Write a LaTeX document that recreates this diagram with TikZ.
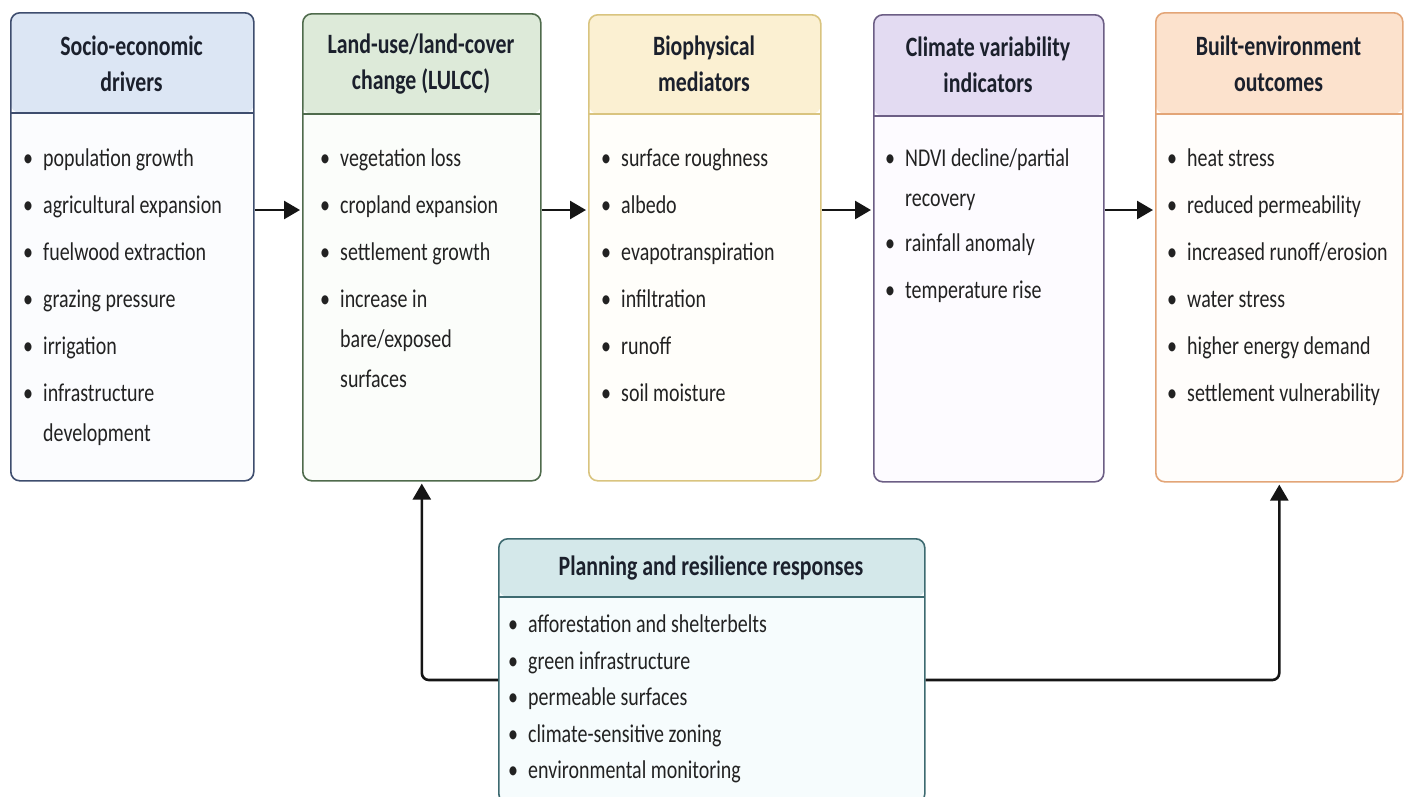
\documentclass[tikz,border=0pt]{standalone}
\usepackage{fontspec}
\setmainfont{Carlito}[FakeStretch=0.78]
\usetikzlibrary{arrows.meta,calc}
\definecolor{cAd}{HTML}{3E4D6E}\definecolor{cAh}{HTML}{DCE6F4}\definecolor{cAb}{HTML}{FBFCFE}
\definecolor{cBd}{HTML}{4F6B4C}\definecolor{cBh}{HTML}{DDEAD9}\definecolor{cBb}{HTML}{FBFDFA}
\definecolor{cCd}{HTML}{D9C47F}\definecolor{cCh}{HTML}{FBF0D2}\definecolor{cCb}{HTML}{FFFEFA}
\definecolor{cDd}{HTML}{6C5E85}\definecolor{cDh}{HTML}{E3DBF2}\definecolor{cDb}{HTML}{FDFBFF}
\definecolor{cEd}{HTML}{E3A577}\definecolor{cEh}{HTML}{FCE2CD}\definecolor{cEb}{HTML}{FFFDFB}
\definecolor{cPd}{HTML}{3D6A70}\definecolor{cPh}{HTML}{D4E8EA}\definecolor{cPb}{HTML}{F6FCFD}
\definecolor{txt}{HTML}{222222}\definecolor{ttxt}{HTML}{1B202C}\definecolor{arc}{HTML}{151515}
\newcommand\bulx{\strut\makebox[20pt][l]{\textbullet}}
\newcommand\cntx{\strut\makebox[20pt]{}}
\begin{document}
\begin{tikzpicture}[x=1pt,y=-1pt,
  card/.style n args={4}{rectangle, draw=#1, fill=#3, line width=1.6pt, rounded corners=9pt,
    inner sep=0pt, anchor=north west,
    path picture={\fill[#2] (path picture bounding box.north west) rectangle ([yshift=-#4]path picture bounding box.north east);
      \draw[#1, line width=1.4pt] ([yshift=-#4]path picture bounding box.north west) -- ([yshift=-#4]path picture bounding box.north east);}},
  ttl/.style={align=center, text=ttxt, font={\fontsize{28}{36}\selectfont\bfseries}, inner sep=0pt},
  lst/.style={align=left, text=txt, anchor=north west, inner sep=0pt, font={\fontsize{25.6}{40}\selectfont}},
  lstp/.style={align=left, text=txt, anchor=north west, inner sep=0pt, font={\fontsize{25.6}{36.5}\selectfont}},
  arr/.style={draw=arc, line width=2.6pt, shorten >=2pt, -{Triangle[length=16pt,width=18pt]}}]
\useasboundingbox[fill=white] (0,0) rectangle (1410,796);
% boxes
\node[card={cAd}{cAh}{cAb}{100pt}, minimum width=243pt, minimum height=468pt] (b1) at (10,12) {};
\node[card={cBd}{cBh}{cBb}{100pt}, minimum width=238pt, minimum height=467pt] (b2) at (302,13) {};
\node[card={cCd}{cCh}{cCb}{99pt}, minimum width=232pt, minimum height=466pt] (b3) at (588,14) {};
\node[card={cDd}{cDh}{cDb}{101pt}, minimum width=230pt, minimum height=467pt] (b4) at (873,14) {};
\node[card={cEd}{cEh}{cEb}{101pt}, minimum width=247pt, minimum height=469pt] (b5) at (1155,12) {};
\node[card={cPd}{cPh}{cPb}{58pt}, minimum width=426pt, minimum height=264pt] (bp) at (498,538) {};
% titles
\node[ttl] (t1) at (131.5,64) {Socio-economic\\drivers};
\node[ttl] (t2) at (421,64) {Land-use/land-cover\\change (LULCC)};
\node[ttl] (t3) at (704,64) {Biophysical\\mediators};
\node[ttl] (t4) at (988,65) {Climate variability\\indicators};
\node[ttl] (t5) at (1278.5,64) {Built-environment\\outcomes};
\node[ttl] (tp) at (711,568) {Planning and resilience responses};
% lists
\node[lst] (l1) at (23,138) {\bulx population growth\\[7pt]\bulx agricultural expansion\\[7pt]\bulx fuelwood extraction\\[7pt]\bulx grazing pressure\\[7pt]\bulx irrigation\\[7pt]\bulx infrastructure\\\cntx development};
\node[lst] (l2) at (320,138) {\bulx vegetation loss\\[7pt]\bulx cropland expansion\\[7pt]\bulx settlement growth\\[7pt]\bulx increase in\\\cntx bare/exposed\\\cntx surfaces};
\node[lst] (l3) at (601,138) {\bulx surface roughness\\[7pt]\bulx albedo\\[7pt]\bulx evapotranspiration\\[7pt]\bulx infiltration\\[7pt]\bulx runoff\\[7pt]\bulx soil moisture};
\node[lst] (l4) at (885,138) {\bulx NDVI decline/partial\\\cntx recovery\\[5pt]\bulx rainfall anomaly\\[7pt]\bulx temperature rise};
\node[lst] (l5) at (1167,138) {\bulx heat stress\\[7pt]\bulx reduced permeability\\[7pt]\bulx increased runoff/erosion\\[7pt]\bulx water stress\\[7pt]\bulx higher energy demand\\[7pt]\bulx settlement vulnerability};
\node[lstp] (lp) at (508,607) {\bulx afforestation and shelterbelts\\\bulx green infrastructure\\\bulx permeable surfaces\\\bulx climate-sensitive zoning\\\bulx environmental monitoring};
% connectors
\coordinate (ay) at (0,210);
\coordinate (fy) at (0,680);
\draw[arr] (b1.east |- ay) -- (b2.west |- ay);
\draw[arr] (b2.east |- ay) -- (b3.west |- ay);
\draw[arr] (b3.east |- ay) -- (b4.west |- ay);
\draw[arr] (b4.east |- ay) -- (b5.west |- ay);
\draw[arr, rounded corners=7pt] (bp.west |- fy) -| (b2.south);
\draw[arr, rounded corners=7pt] (bp.east |- fy) -| (b5.south);
\end{tikzpicture}
\end{document}
